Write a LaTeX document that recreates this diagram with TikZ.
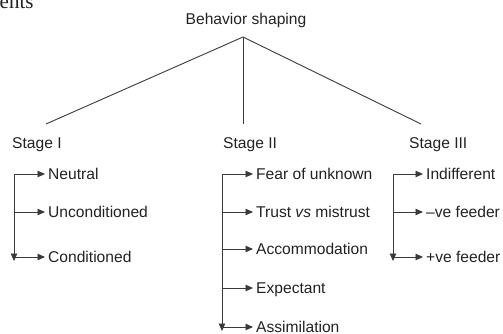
\documentclass[tikz,border=0pt]{standalone}
\usepackage{fontspec}
\setmainfont{Liberation Sans}
\newfontfamily\serifpart{Liberation Serif}
\usetikzlibrary{arrows.meta}
\definecolor{ink}{HTML}{222222}
\definecolor{linec}{HTML}{3A3A3A}
\begin{document}
\begin{tikzpicture}[x=1pt,y=-1pt,
  txt/.style={font=\fontsize{15.6pt}{18pt}\selectfont, text=ink, inner sep=0pt},
  item/.style={txt, anchor=west, inner xsep=3pt, inner ysep=0pt, text height=11.2pt, text depth=0pt},
  conn/.style={draw=linec, line width=0.9pt},
  arr/.style={conn, -{Triangle[length=7.5pt,width=6.5pt]}}
]
\useasboundingbox (0,0) rectangle (503,334);

% cropped fragment at top-left
\node[anchor=base west, inner sep=0pt, font=\serifpart\fontsize{21pt}{24pt}\selectfont, text=ink] (frag) at (-0.5,8.5) {ents};

% title and stages
\node[txt] (title) at (246,20) {Behavior shaping};
\coordinate (apex) at (243,37);
\coordinate (e1) at (46,124);
\coordinate (e2) at (243,124);
\coordinate (e3) at (421,124);
\draw[conn] (apex) -- (e1);
\draw[conn] (apex) -- (e2);
\draw[conn] (apex) -- (e3);
\node[txt, anchor=west] (st1) at (12,145) {Stage I};
\node[txt, anchor=west] (st2) at (223,145) {Stage II};
\node[txt, anchor=west] (st3) at (409,145) {Stage III};

% Stage I branches
\coordinate (a1) at (14,174);
\coordinate (a2) at (14,212);
\coordinate (a3) at (14,257);
\coordinate (a4) at (14,261);
\node[item] (neutral) at (45,174) {Neutral};
\node[item] (uncond) at (45,212) {Unconditioned};
\node[item] (cond) at (45,257) {Conditioned};
\draw[arr] (a1) -- (a4);
\draw[arr] (a1) -- (neutral.west);
\draw[arr] (a2) -- (uncond.west);
\draw[arr] (a3) -- (cond.west);

% Stage II branches
\coordinate (b1) at (222,174);
\coordinate (b2) at (222,212);
\coordinate (b3) at (222,249);
\coordinate (b4) at (222,288);
\coordinate (b5) at (222,327);
\coordinate (b6) at (222,331);
\node[item] (fear) at (253,174) {Fear of unknown};
\node[item] (trust) at (253,212) {Trust \textit{vs} mistrust};
\node[item] (accom) at (253,249) {Accommodation};
\node[item] (expect) at (253,288) {Expectant};
\node[item] (assim) at (253,327) {Assimilation};
\draw[arr] (b1) -- (b6);
\draw[arr] (b1) -- (fear.west);
\draw[arr] (b2) -- (trust.west);
\draw[arr] (b3) -- (accom.west);
\draw[arr] (b4) -- (expect.west);
\draw[arr] (b5) -- (assim.west);

% Stage III branches
\coordinate (c1) at (393,174);
\coordinate (c2) at (393,212);
\coordinate (c3) at (393,257);
\coordinate (c4) at (393,261);
\node[item] (indiff) at (423,174) {Indifferent};
\node[item] (neg) at (423,212) {–ve feeder};
\node[item] (pos) at (423,257) {+ve feeder};
\draw[arr] (c1) -- (c4);
\draw[arr] (c1) -- (indiff.west);
\draw[arr] (c2) -- (neg.west);
\draw[arr] (c3) -- (pos.west);
\end{tikzpicture}
\end{document}
